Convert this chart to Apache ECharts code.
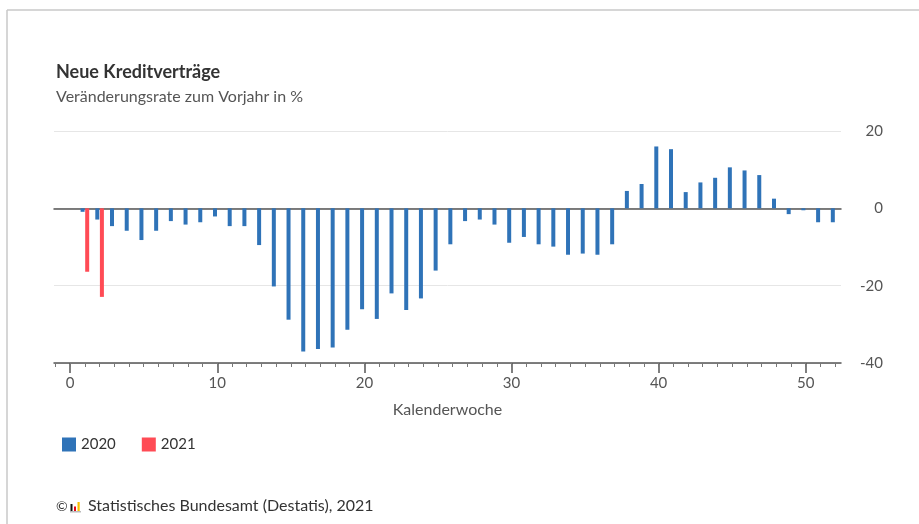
<!DOCTYPE html>
<html>
<head>
<meta charset="utf-8">
<script src="https://cdn.jsdelivr.net/npm/echarts@6/dist/echarts.min.js"></script>
<style>
  html, body { margin: 0; padding: 0; background: #fff; }
  #chart { width: 919px; height: 524px; }
</style>
</head>
<body>
<div id="chart"></div>
<script>
// Kalenderwochen und Veränderungsraten (in %)
var weeks2020 = [1, 2, 3, 4, 5, 6, 7, 8, 9, 10, 11, 12, 13, 14, 15, 16, 17, 18, 19, 20,
    21, 22, 23, 24, 25, 26, 27, 28, 29, 30, 31, 32, 33, 34, 35, 36, 37, 38, 39, 40,
    41, 42, 43, 44, 45, 46, 47, 48, 49, 50, 51, 52];
var values2020 = [-0.9, -2.9, -4.6, -5.8, -8.2, -5.8, -3.3, -4.2, -3.6, -2.1,
    -4.6, -4.6, -9.5, -20.2, -28.8, -37, -36.4, -36, -31.4, -26.1,
    -28.6, -22, -26.3, -23.3, -16.1, -9.3, -3.3, -2.9, -4.2, -8.9,
    -7.4, -9.3, -9.9, -12, -11.7, -12, -9.3, 4.5, 6.3, 16,
    15.3, 4.2, 6.7, 7.9, 10.6, 9.8, 8.6, 2.5, -1.5, -0.5, -3.6, -3.6];
var weeks2021 = [1, 2];
var values2021 = [-16.4, -22.9];

var majorTicks = [0, 10, 20, 30, 40, 50];
var minorTicks = [];
for (var w = -1; w <= 52; w++) minorTicks.push(w);

var FONT = 'Lato, "Noto Sans", sans-serif';

function pairs(xs, ys) {
    return xs.map(function (x, i) { return [x, ys[i]]; });
}

var myChart = echarts.init(document.getElementById('chart'));
var option = {
    animation: false,
    textStyle: { fontFamily: FONT },
    title: {
        text: 'Neue Kreditverträge',
        subtext: 'Veränderungsrate zum Vorjahr in %',
        left: 56,
        top: 63,
        padding: 0,
        itemGap: 8,
        textStyle: { fontFamily: FONT, fontSize: 18, fontWeight: 'bold', color: '#333' },
        subtextStyle: { fontFamily: FONT, fontSize: 16, color: '#555' }
    },
    legend: {
        left: 57,
        top: 432,
        icon: 'rect',
        itemWidth: 14,
        itemHeight: 14,
        itemGap: 26,
        data: ['2020', '2021'],
        textStyle: { fontFamily: FONT, fontSize: 15, color: '#333' }
    },
    grid: { left: 54, right: 78, top: 131, bottom: 161 },
    xAxis: [
        {
            type: 'value',
            position: 'bottom',
            min: -1.1,
            max: 52.4,
            name: 'Kalenderwoche',
            nameLocation: 'middle',
            nameGap: 39,
            nameTextStyle: { fontFamily: FONT, fontSize: 16, color: '#555' },
            axisLine: { onZero: false, lineStyle: { color: '#555', width: 1.5 } },
            axisTick: { customValues: majorTicks, length: 10, lineStyle: { color: '#555', width: 1.5 } },
            axisLabel: { customValues: majorTicks, margin: 13, fontSize: 15, color: '#555' },
            splitLine: { show: false }
        },
        {
            type: 'value',
            position: 'bottom',
            min: -1.1,
            max: 52.4,
            axisLine: { show: false, onZero: false },
            axisTick: { customValues: minorTicks, length: 4, lineStyle: { color: '#777', width: 1 } },
            axisLabel: { show: false },
            splitLine: { show: false }
        },
        {
            type: 'value',
            position: 'bottom',
            min: -1.1,
            max: 52.4,
            axisLine: { onZero: true, lineStyle: { color: '#555', width: 1.5 } },
            axisTick: { show: false },
            axisLabel: { show: false },
            splitLine: { show: false }
        }
    ],
    yAxis: {
        type: 'value',
        position: 'right',
        min: -40,
        max: 20,
        interval: 20,
        axisLine: { show: false },
        axisTick: { show: false },
        axisLabel: { align: 'right', margin: 42, fontSize: 15, color: '#555' },
        splitLine: { lineStyle: { color: '#e6e6e6', width: 1 } }
    },
    series: [
        {
            name: '2020',
            type: 'bar',
            barWidth: 4,
            barGap: '15%',
            itemStyle: { color: '#2f73b8' },
            data: pairs(weeks2020, values2020)
        },
        {
            name: '2021',
            type: 'bar',
            barWidth: 4,
            barGap: '15%',
            itemStyle: { color: '#ff4b55' },
            data: pairs(weeks2021, values2021)
        }
    ],
    graphic: [
        { type: 'line', shape: { x1: 7, y1: 10, x2: 919, y2: 10 }, style: { stroke: '#c8c8c8', lineWidth: 1.5 } },
        { type: 'line', shape: { x1: 7, y1: 10, x2: 7, y2: 524 }, style: { stroke: '#c8c8c8', lineWidth: 1.5 } },
        { type: 'text', left: 56, top: 499, style: { text: '©', font: '14px ' + FONT, fill: '#333' } },
        // Destatis-Logo
        { type: 'rect', shape: { x: 70.5, y: 504, width: 2, height: 7 }, style: { fill: '#111' } },
        { type: 'rect', shape: { x: 74, y: 506.5, width: 2, height: 4.5 }, style: { fill: '#e3051b' } },
        { type: 'rect', shape: { x: 77.5, y: 502, width: 2.2, height: 9 }, style: { fill: '#f9c000' } },
        { type: 'rect', shape: { x: 70, y: 511, width: 11, height: 1.5 }, style: { fill: '#bbb' } },
        { type: 'text', left: 88, top: 498, style: { text: 'Statistisches Bundesamt (Destatis), 2021', font: '16px ' + FONT, fill: '#333' } }
    ]
};
myChart.setOption(option);
window.addEventListener('resize', function () {
    myChart.resize();
});
</script>
</body>
</html>
